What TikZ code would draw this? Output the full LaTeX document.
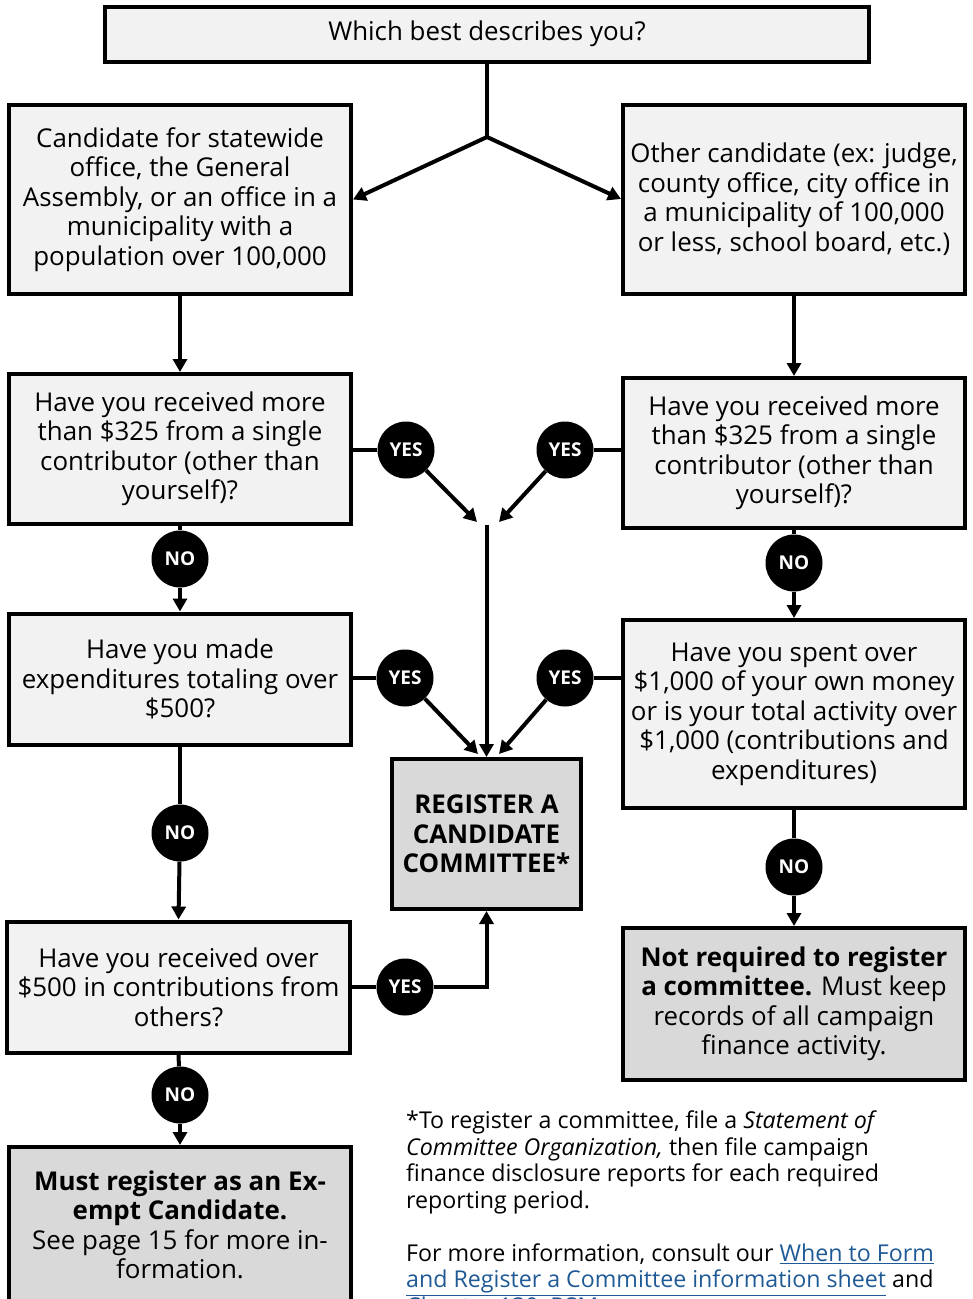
\documentclass[tikz,border=0pt]{standalone}
\usepackage{fontspec}
\setmainfont{Open Sans}
\usetikzlibrary{arrows.meta,positioning}
\definecolor{boxgray}{HTML}{F2F2F2}
\definecolor{endgray}{HTML}{D9D9D9}
\definecolor{linkblue}{HTML}{1F5A96}
\tikzset{>={Triangle[length=13pt,width=14pt]}}
\newcommand{\weblink}[1]{\textcolor{linkblue}{\underline{#1}}}

\begin{document}
\begin{tikzpicture}[x=1pt,y=-1pt,
  qbox/.style={draw=black,line width=4pt,fill=boxgray,minimum width=342pt,align=center,inner sep=0pt,font=\fontsize{25.9}{29.5}\selectfont},
  endbox/.style={qbox,fill=endgray},
  yesno/.style={circle,fill=black,text=white,minimum size=57pt,inner sep=0pt,font=\fontsize{19}{19}\selectfont\bfseries},
  link/.style={line width=4pt}]
\useasboundingbox (0,0) rectangle (973,1299);
% question boxes:
 \node[qbox,minimum width=764pt,minimum height=55pt] (top) at (487,34) {Which best describes you?};
 \node[qbox,minimum height=189pt] (l1) at (180,199.5) {Candidate for statewide\\office, the General\\Assembly, or an office in a\\municipality with a\\population over 100,000};
 \node[qbox,minimum height=189pt] (r1) at (794,199) {Other candidate (ex: judge,\\county office, city office in\\a municipality of 100,000\\or less, school board, etc.)};
 \node[qbox,minimum height=150pt] (l2) at (180,449) {Have you received more\\than \$325 from a single\\contributor (other than\\yourself)?};
 \node[qbox,minimum height=150pt] (r2) at (794,453) {Have you received more\\than \$325 from a single\\contributor (other than\\yourself)?};
 \node[qbox,minimum height=131pt] (l3) at (180,679) {Have you made\\expenditures totaling over\\\$500?};
 \node[qbox,minimum height=188pt] (r3) at (794,714) {Have you spent over\\\$1,000 of your own money\\or is your total activity over\\\$1,000 (contributions and\\expenditures)};
 \node[qbox,minimum height=131pt,minimum width=343pt] (l4) at (178.5,987) {Have you received over\\\$500 in contributions from\\others?};
% end boxes:
 \node[endbox,minimum width=189pt,minimum height=150pt,font=\fontsize{25.9}{29.5}\selectfont\bfseries] (reg) at (486.5,834) {REGISTER A\\CANDIDATE\\COMMITTEE*};
 \node[endbox,minimum height=152pt] (r4) at (794,1004) {\textbf{Not required to register}\\\textbf{a committee.} Must keep\\records of all campaign\\finance activity.};
 \node[endbox,minimum height=156pt] (l5) at (180,1225) {\textbf{Must register as an Ex-}\\\textbf{empt Candidate.}\\See page 15 for more in-\\formation.};
% answers:
 \node[yesno] (yesA) at (406,450) {YES};
 \node[yesno] (yesB) at (565,450) {YES};
 \node[yesno] (yesC) at (405,678) {YES};
 \node[yesno] (yesD) at (565,678) {YES};
 \node[yesno] (yesE) at (405,987) {YES};
 \node[yesno] (noA) at (180,559) {NO};
 \node[yesno] (noB) at (794,563) {NO};
 \node[yesno] (noC) at (180,833) {NO};
 \node[yesno] (noD) at (794,867) {NO};
 \node[yesno] (noE) at (180,1095) {NO};
% footnote:
 \node[anchor=north west,align=left,inner sep=0pt,font=\fontsize{23.2}{26.5}\selectfont] (note) at (406,1111)
  {*To register a committee, file a \textit{Statement of}\\\textit{Committee Organization,} then file campaign\\finance disclosure reports for each required\\reporting period.\\[26.5pt]For more information, consult our \weblink{When to Form}\\\weblink{and Register a Committee information sheet} and\\\weblink{Chapter 130, RSMo}.};
%% connectors:
 \coordinate (fork) at (487,137);
 \coordinate (mergeL) at (477,522);
 \coordinate (mergeR) at (499,522);
 \coordinate (stem) at (486.5,525);
 \coordinate (regL) at (478,754);
 \coordinate (regR) at (499,754);
 \draw[link] (top.south) -- (fork);
 \draw[link,->] (fork) -- (l1.east);
 \draw[link,->] (fork) -- (r1.west);
 \draw[link,->] (l1.south) -- (l2.north);
 \draw[link,->] (r1.south) -- (r2.north);
 \draw[link] (yesA) -- (yesA -| l2.east);
 \draw[link] (yesB) -- (yesB -| r2.west);
 \draw[link,->] (yesA) -- (mergeL);
 \draw[link,->] (yesB) -- (mergeR);
 \draw[link,->] (stem) -- (reg.north);
 \draw[link] (l2.south) -- (noA);
 \draw[link,->] (noA) -- (l3.north);
 \draw[link] (r2.south) -- (noB);
 \draw[link,->] (noB) -- (r3.north);
 \draw[link] (yesC) -- (yesC -| l3.east);
 \draw[link] (yesD) -- (yesD -| r3.west);
 \draw[link,->] (yesC) -- (regL);
 \draw[link,->] (yesD) -- (regR);
 \draw[link] (l3.south) -- (noC);
 \draw[link,->] (noC) -- (l4.north);
 \draw[link] (yesE) -- (yesE -| l4.east);
 \draw[link,->] (yesE) -- (yesE -| reg.south) -- (reg.south);
 \draw[link] (r3.south) -- (noD);
 \draw[link,->] (noD) -- (r4.north);
 \draw[link] (l4.south) -- (noE);
 \draw[link,->] (noE) -- (l5.north);
\end{tikzpicture}
\end{document}
